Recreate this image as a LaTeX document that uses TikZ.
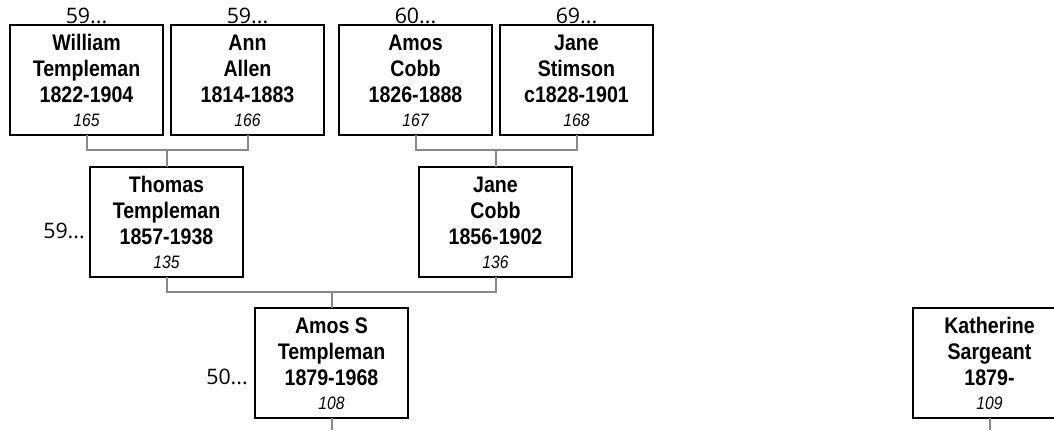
\documentclass[tikz,border=0pt]{standalone}
\usepackage{fontspec}
\setmainfont{Liberation Sans}
\newfontfamily\narrowfont[FakeStretch=0.87]{Liberation Sans}
\newfontfamily\labelfont{Open Sans}
\definecolor{conngray}{RGB}{136,136,136}
\newcommand\personbox[4]{\parbox[c][82.5pt][t]{114.75pt}{\centering\narrowfont\fontsize{16.9pt}{19.5pt}\selectfont\rule{0pt}{18.75pt}\textbf{#1}\\\textbf{#2}\\\textbf{#3}\\[-1.5pt]{\fontsize{13.5pt}{15pt}\selectfont\itshape #4}}}
\tikzset{
  person/.style={draw=black, line width=1.5pt, inner sep=0pt, outer sep=0pt},
  conn/.style={draw=conngray, line width=1.5pt},
  gen/.style={font={\labelfont\fontsize{16pt}{18pt}\selectfont}, inner sep=0pt}
}
\begin{document}
\begin{tikzpicture}[x=0.75pt,y=-0.75pt]
\useasboundingbox (0,0) rectangle (1054,430);
\clip (0,0) rectangle (1054,430);
% persons
\node[person] (p165) at (86.5,80) {\personbox{William}{Templeman}{1822-1904}{165}};
\node[person] (p166) at (247.5,80) {\personbox{Ann}{Allen}{1814-1883}{166}};
\node[person] (p167) at (415.5,80) {\personbox{Amos}{Cobb}{1826-1888}{167}};
\node[person] (p168) at (576.5,80) {\personbox{Jane}{Stimson}{c1828-1901}{168}};
\node[person] (p135) at (166.5,222) {\personbox{Thomas}{Templeman}{1857-1938}{135}};
\node[person] (p136) at (495.5,222) {\personbox{Jane}{Cobb}{1856-1902}{136}};
\node[person] (p108) at (331.5,363) {\personbox{Amos S}{Templeman}{1879-1968}{108}};
\node[person] (p109) at (989.5,363) {\personbox{Katherine}{Sargeant}{1879-}{109}};
% labels
\node[gen, anchor=base] (l165) at (86.5,23.5) {59...};
\node[gen, anchor=base] (l166) at (247.5,23.5) {59...};
\node[gen, anchor=base] (l167) at (415.5,23.5) {60...};
\node[gen, anchor=base] (l168) at (576.5,23.5) {69...};
\node[gen, anchor=base east] (l135) at (85,238.5) {59...};
\node[gen, anchor=base east] (l108) at (248,384.5) {50...};
% connectors
\coordinate (m1) at (166.5,150);
\coordinate (m2) at (495.5,150);
\coordinate (m3) at (331.5,292);
\coordinate (e108) at (331.5,430);
\coordinate (e109) at (989.5,430);
\draw[conn] (p165.south) |- (m1) -| (p166.south);
\draw[conn] (m1) -- (p135.north);
\draw[conn] (p167.south) |- (m2) -| (p168.south);
\draw[conn] (m2) -- (p136.north);
\draw[conn] (p135.south) |- (m3) -| (p136.south);
\draw[conn] (m3) -- (p108.north);
\draw[conn] (p108.south) -- (e108);
\draw[conn] (p109.south) -- (e109);
\end{tikzpicture}
\end{document}
